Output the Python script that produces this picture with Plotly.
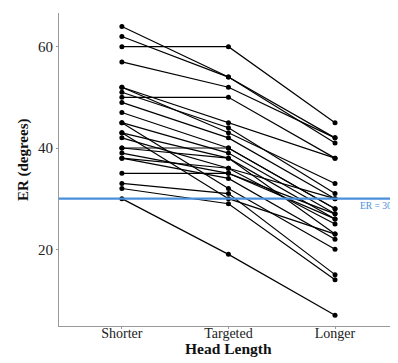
import plotly.graph_objects as go

categories = ["Shorter", "Targeted", "Longer"]
shorter = [64, 62, 60, 57, 52, 50, 52, 51, 49, 47, 45, 43, 42, 40, 40, 39, 38, 35, 33, 32, 30, 45, 43, 38]
targeted = [54, 54, 60, 52, 45, 50, 43, 44, 42, 40, 39, 38, 36, 40, 38, 35, 34, 35, 31, 29, 19, 32, 30, 36]
longer = [42, 41, 45, 42, 38, 38, 33, 31, 30, 28, 27, 26, 25, 28, 23, 27, 22, 26, 15, 14, 7, 20, 23, 30]
ref_value = 30
ref_label = "ER = 30°"
y_ticks = [20, 40, 60]
x_title = "Head Length"
y_title = "ER (degrees)"

fig = go.Figure()
for s, t, l in zip(shorter, targeted, longer):
    fig.add_trace(go.Scatter(
        x=categories, y=[s, t, l], mode="lines+markers",
        line=dict(color="black", width=1.2),
        marker=dict(color="black", size=5),
        showlegend=False, hoverinfo="skip"))

blue = "#4A8FDB"
fig.add_shape(type="line", xref="paper", x0=0, x1=1, yref="y", y0=ref_value, y1=ref_value,
              line=dict(color=blue, width=2.2))
fig.add_annotation(text=ref_label, xref="paper", x=0.905, xanchor="left",
                   yref="y", y=ref_value, yanchor="top", yshift=-1, showarrow=False,
                   borderpad=0,
                   font=dict(family="Liberation Serif", size=9.5, color=blue))
fig.add_annotation(text="<b>" + x_title + "</b>", xref="x", x="Targeted", xanchor="center",
                   yref="paper", y=0, yanchor="middle", yshift=-22, showarrow=False,
                   font=dict(family="Liberation Serif", size=15.5, color="#111111"))
fig.add_annotation(text="<b>" + y_title + "</b>", xref="paper", x=0, xanchor="center",
                   xshift=-36, yref="paper", y=0.53, yanchor="middle", textangle=-90,
                   showarrow=False,
                   font=dict(family="Liberation Serif", size=15, color="#111111"))

fig.update_layout(
    width=382, height=355,
    margin=dict(l=51, r=0, t=5, b=37, autoexpand=False),
    plot_bgcolor="white", paper_bgcolor="white",
    font=dict(family="Liberation Serif", color="#222222", size=14),
    xaxis=dict(type="category", categoryarray=categories, range=[-0.59, 2.516],
               showgrid=False, zeroline=False, showline=True, linecolor="#999999", linewidth=1,
               ticks="outside", ticklen=2, tickcolor="#999999", automargin=False,
               ticklabelstandoff=-8,
               tickfont=dict(size=14)),
    yaxis=dict(range=[4.86, 66.65], tickvals=y_ticks, automargin=False,
               showgrid=False, zeroline=False, showline=True, linecolor="#999999", linewidth=1,
               ticks="outside", ticklen=2, tickcolor="#999999",
               tickfont=dict(size=15)),
)

fig.write_html("out.html")
